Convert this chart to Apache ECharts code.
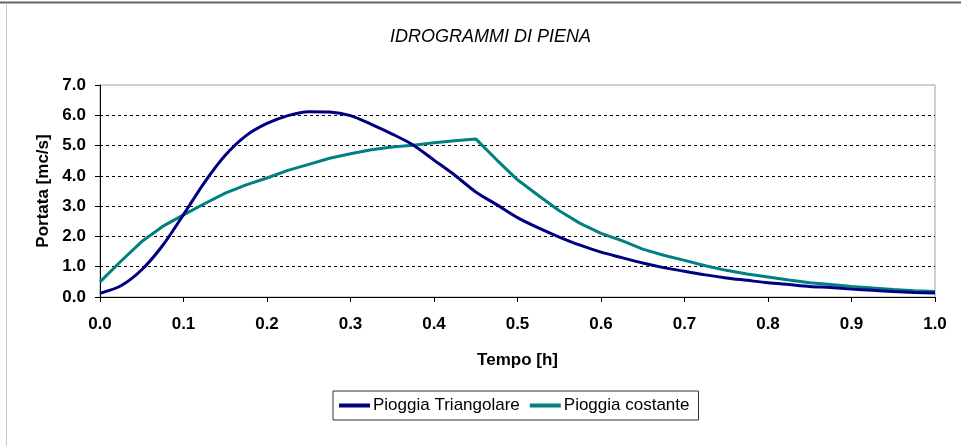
<!DOCTYPE html>
<html>
<head>
<meta charset="utf-8">
<title>Idrogrammi di piena</title>
<script src="https://cdn.jsdelivr.net/npm/echarts@6/dist/echarts.min.js"></script>
<style>
  html, body { margin: 0; padding: 0; background: #ffffff; }
  #chart { width: 961px; height: 446px; }
</style>
</head>
<body>
<div id="chart"></div>
<script>
// Tempo [h]
const tempo = [
  0.000, 0.025, 0.050, 0.075, 0.100, 0.125, 0.150, 0.175, 0.200, 0.225,
  0.250, 0.275, 0.300, 0.325, 0.350, 0.375, 0.400, 0.425, 0.450, 0.475,
  0.500, 0.525, 0.550, 0.575, 0.600, 0.625, 0.650, 0.675, 0.700, 0.725,
  0.750, 0.775, 0.800, 0.825, 0.850, 0.875, 0.900, 0.925, 0.950, 0.975,
  1.000
];

// Portata [mc/s] - pioggia triangolare
const portataTriangolare = [
  0.12, 0.37, 0.90, 1.70, 2.72, 3.78, 4.68, 5.33, 5.73, 5.99,
  6.12, 6.11, 5.99, 5.70, 5.38, 5.02, 4.52, 4.02, 3.47, 3.05,
  2.62, 2.28, 1.98, 1.71, 1.48, 1.30, 1.12, 0.97, 0.85, 0.73,
  0.63, 0.55, 0.47, 0.41, 0.35, 0.31, 0.26, 0.22, 0.18, 0.15,
  0.13
];

// Portata [mc/s] - pioggia costante
const portataCostante = [
  0.50, 1.18, 1.83, 2.33, 2.71, 3.08, 3.43, 3.70, 3.93, 4.18,
  4.38, 4.58, 4.73, 4.86, 4.95, 5.01, 5.09, 5.16, 5.22, 4.53,
  3.87, 3.35, 2.85, 2.43, 2.10, 1.86, 1.58, 1.38, 1.21, 1.03,
  0.88, 0.76, 0.66, 0.56, 0.47, 0.41, 0.35, 0.30, 0.25, 0.21,
  0.18
];

const seriesNames = ['Pioggia Triangolare', 'Pioggia costante'];
const seriesColors = ['#000080', '#008080'];

const pairs = (xs, ys) => xs.map((x, i) => [x, ys[i]]);

const chart = echarts.init(document.getElementById('chart'), null, { renderer: 'canvas' });

const baseFont = 'Arial, "Liberation Sans", sans-serif';

chart.setOption({
  animation: false,
  backgroundColor: '#ffffff',
  textStyle: { fontFamily: baseFont },
  title: {
    text: 'IDROGRAMMI DI PIENA',
    left: 385,
    top: 23,
    textStyle: {
      fontFamily: baseFont,
      fontSize: 18,
      fontStyle: 'italic',
      fontWeight: 'normal',
      color: '#000000'
    }
  },
  graphic: [
    { type: 'line', shape: { x1: 0, y1: 2.5, x2: 961, y2: 2.5 }, style: { stroke: '#666666', lineWidth: 2 }, silent: true },
    { type: 'line', shape: { x1: 6.5, y1: 3, x2: 6.5, y2: 446 }, style: { stroke: '#c8c8c8', lineWidth: 1 }, silent: true }
  ],
  grid: {
    left: 100,
    right: 26,
    top: 85,
    bottom: 149,
    show: true,
    borderColor: '#a0a0a0',
    borderWidth: 1,
    backgroundColor: '#ffffff'
  },
  legend: {
    data: seriesNames,
    left: 333,
    top: 391,
    orient: 'horizontal',
    icon: 'rect',
    itemWidth: 31,
    itemHeight: 4,
    itemGap: 10,
    padding: [6, 9, 6, 6],
    borderColor: '#333333',
    borderWidth: 1,
    backgroundColor: '#ffffff',
    textStyle: { fontFamily: baseFont, fontSize: 17, color: '#000000', padding: [0, 0, 0, -2] }
  },
  xAxis: {
    type: 'value',
    min: 0,
    max: 1,
    interval: 0.1,
    name: 'Tempo [h]',
    nameLocation: 'middle',
    nameGap: 55,
    nameTextStyle: { fontFamily: baseFont, fontSize: 17, fontWeight: 'bold', color: '#000000' },
    axisLine: { show: true, onZero: false, lineStyle: { color: '#000000', width: 1 } },
    axisTick: { show: true, inside: false, length: 5, lineStyle: { color: '#000000' } },
    axisLabel: {
      margin: 19,
      fontFamily: baseFont,
      fontSize: 17,
      fontWeight: 'bold',
      color: '#000000',
      formatter: v => v.toFixed(1)
    },
    splitLine: { show: false }
  },
  yAxis: {
    type: 'value',
    min: 0,
    max: 7,
    interval: 1,
    name: 'Portata [mc/s]',
    nameLocation: 'middle',
    nameGap: 48,
    nameTextStyle: { fontFamily: baseFont, fontSize: 17, fontWeight: 'bold', color: '#000000' },
    axisLine: { show: true, lineStyle: { color: '#000000', width: 1 } },
    axisTick: { show: true, inside: false, length: 5, lineStyle: { color: '#000000' } },
    axisLabel: {
      margin: 14,
      fontFamily: baseFont,
      fontSize: 17,
      fontWeight: 'bold',
      color: '#000000',
      formatter: v => v.toFixed(1)
    },
    splitLine: {
      show: true,
      showMinLine: false,
      showMaxLine: false,
      lineStyle: { color: '#000000', type: [3, 3], width: 1 }
    }
  },
  series: [
    {
      name: seriesNames[0],
      type: 'line',
      data: pairs(tempo, portataTriangolare),
      smooth: 0.3,
      showSymbol: false,
      symbol: 'none',
      lineStyle: { color: seriesColors[0], width: 3 },
      itemStyle: { color: seriesColors[0] },
      z: 3
    },
    {
      name: seriesNames[1],
      type: 'line',
      data: pairs(tempo, portataCostante),
      smooth: false,
      showSymbol: false,
      symbol: 'none',
      lineStyle: { color: seriesColors[1], width: 3 },
      itemStyle: { color: seriesColors[1] },
      z: 2
    }
  ]
});
</script>
</body>
</html>
